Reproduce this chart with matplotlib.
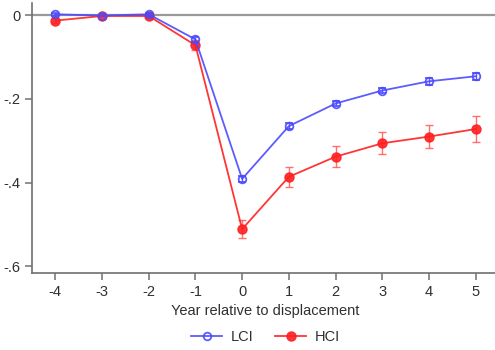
import numpy as np
import matplotlib.pyplot as plt
from matplotlib.lines import Line2D

plt.rcParams['font.family'] = ['Liberation Sans', 'DejaVu Sans']
plt.rcParams['axes.unicode_minus'] = False

years = [-4, -3, -2, -1, 0, 1, 2, 3, 4, 5]
lci = [0.002, -0.001, 0.002, -0.058, -0.391, -0.265, -0.211, -0.180, -0.158, -0.146]
lci_err = [0.004, 0.0, 0.004, 0.006, 0.008, 0.007, 0.006, 0.007, 0.008, 0.008]
hci = [-0.013, -0.002, -0.002, -0.072, -0.511, -0.386, -0.338, -0.306, -0.290, -0.272]
hci_err = [0.006, 0.0, 0.006, 0.012, 0.022, 0.024, 0.025, 0.026, 0.028, 0.030]

blue = '#4a4aff'
red = '#ff2020'

fig = plt.figure(figsize=(4.95, 3.5), dpi=100)
ax = fig.add_axes([32 / 495, 1 - 272.7 / 350, 467 / 495, 269.7 / 350])

ax.axhline(0, color='#999999', lw=1.6, zorder=1)

ax.errorbar(years, lci, yerr=lci_err, color=blue, lw=1.3, marker='o', ms=5.5,
            mfc='none', mec=blue, mew=1.3, capsize=3, elinewidth=1, alpha=0.9,
            zorder=3)
ax.errorbar(years, hci, yerr=hci_err, color=red, lw=1.3, marker='o', ms=6.5,
            mfc=red, mec=red, capsize=3, elinewidth=1, ecolor='#ff6060',
            alpha=0.9, zorder=2)

ax.set_xlim(-4.5, 5.5)
ax.set_ylim(-0.615, 0.029)
ax.set_xticks(years)
ax.set_yticks([0, -0.2, -0.4, -0.6])
ax.set_yticklabels(['0', '-.2', '-.4', '-.6'])

for s in ['top', 'right']:
    ax.spines[s].set_visible(False)
for s in ['left', 'bottom']:
    ax.spines[s].set_color('#707070')
    ax.spines[s].set_linewidth(1.2)
ax.tick_params(colors='#707070', labelcolor='#303030', labelsize=10.5, length=5, width=1.1)

ax.set_xlabel('Year relative to displacement', fontsize=10.5, color='#303030', labelpad=4)

handles = [
    Line2D([], [], color=blue, lw=1.3, marker='o', ms=5.5, mfc='none', mew=1.3, alpha=0.9),
    Line2D([], [], color=red, lw=1.3, marker='o', ms=6.5, mfc=red, alpha=0.9),
]
ax.legend(handles, ['LCI', 'HCI'], loc='center', bbox_to_anchor=(0.5, -0.238), ncol=2,
          frameon=False, fontsize=10.5, handlelength=2.1, handletextpad=0.6,
          columnspacing=1.5, labelcolor='#303030')

fig.savefig('out.png', dpi=100)
